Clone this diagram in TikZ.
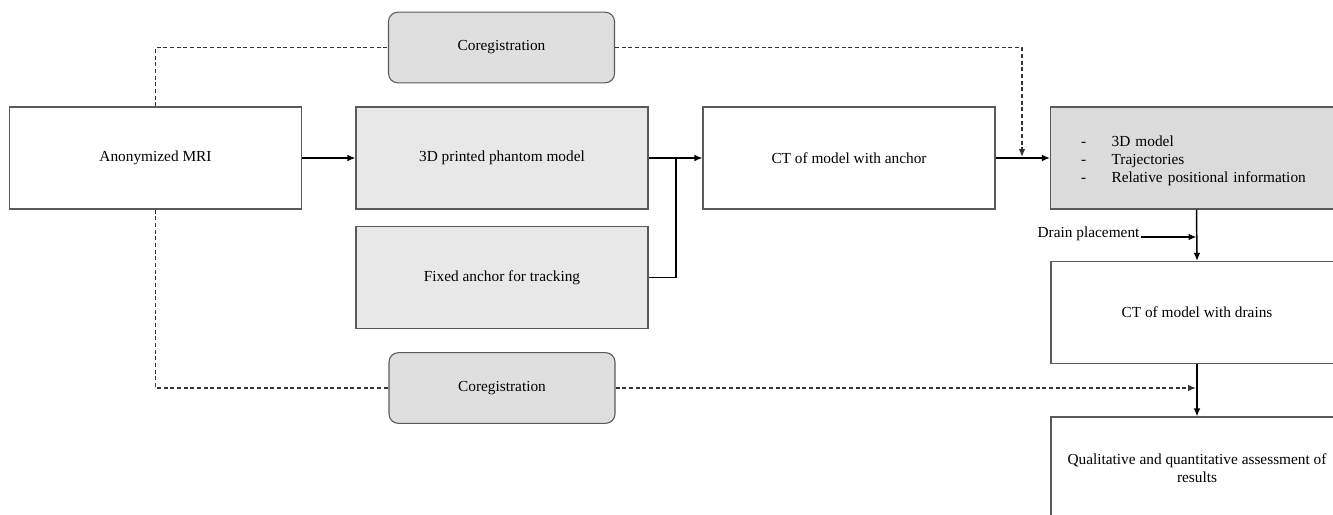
\documentclass[tikz,border=0pt]{standalone}
\usepackage{fontspec}
\setmainfont{Liberation Serif}
\usepackage{tikz}
\usetikzlibrary{arrows.meta, calc}

\definecolor{boxline}{HTML}{5A5A5A}
\definecolor{lightfill}{HTML}{E8E8E8}
\definecolor{coregfill}{HTML}{DFDFDF}
\definecolor{resultfill}{HTML}{DBDBDB}

\begin{document}
\begin{tikzpicture}[x=0.75pt, y=-0.75pt,
        font=\fontsize{11.5}{13.5}\selectfont,
        stepbox/.style={draw=boxline, line width=0.8pt, minimum width=219pt, minimum height=76.5pt, inner sep=2pt},
        coregbox/.style={draw=boxline, line width=0.8pt, fill=coregfill, rounded corners=7pt, minimum width=169.5pt, minimum height=53pt},
        arr/.style={line width=1.1pt, -{Latex[length=6pt,width=5pt]}},
        plain/.style={line width=1.1pt},
        dashline/.style={line width=0.9pt, draw=black!80, dash pattern=on 3pt off 2pt}]
        \useasboundingbox (0,0) rectangle (1333,514);

        % boxes
        \node[stepbox] (mri) at (155.5,158) {Anonymized MRI};
        \node[stepbox, fill=lightfill] (printed) at (502,158) {3D printed phantom model};
        \node[stepbox, fill=lightfill] (fixed) at (502,277.5) {Fixed anchor for tracking};
        \node[stepbox] (ctanchor) at (849,158) {CT of model with anchor};
        \node[stepbox, fill=resultfill, text width=173pt, inner xsep=23pt, align=left] (result) at (1196.5,158)
            {\raisebox{-2.5pt}[\height][\depth]{\begin{tabular}{@{}l@{\hspace{19pt}}l@{}}
                - & 3D model\\
                - & Trajectories\\
                - & Relative positional information
            \end{tabular}}};
        \node[stepbox] (ctdrains) at (1197,312.5) {CT of model with drains};
        \node[stepbox, align=center] (qual) at (1197,468) {Qualitative and quantitative assessment of\\results};

        \node[coregbox] (coregtop) at (501.5,47.5) {Coregistration};
        \node[coregbox] (coregbot) at (502,388) {Coregistration};

        \node[anchor=base east, inner sep=1pt] (drain) at (1141,237) {Drain placement};

        \coordinate (join) at (676,158);
        \coordinate (droptop) at (1022,157);
        \coordinate (dropbot) at (1196,388);

        % solid connectors
        \draw[arr] (mri) -- (printed);
        \draw[plain] (fixed.east) -| (join);
        \draw[arr] (printed) -- (ctanchor);
        \draw[arr] (ctanchor) -- (result);
        \draw[arr] (result.south) -- (ctdrains.north);
        \draw[arr] (drain.base east) -- (drain.base east -| result.south);
        \draw[arr] (ctdrains) -- (qual);

        % dashed connectors
        \draw[dashline] (mri.north) |- (coregtop.west);
        \draw[dashline] (mri.south) |- (coregbot.west);
        \draw[dashline, arr] (coregtop.east) -| (droptop);
        \draw[dashline, arr] (coregbot.east) -- (dropbot);
\end{tikzpicture}
\end{document}
